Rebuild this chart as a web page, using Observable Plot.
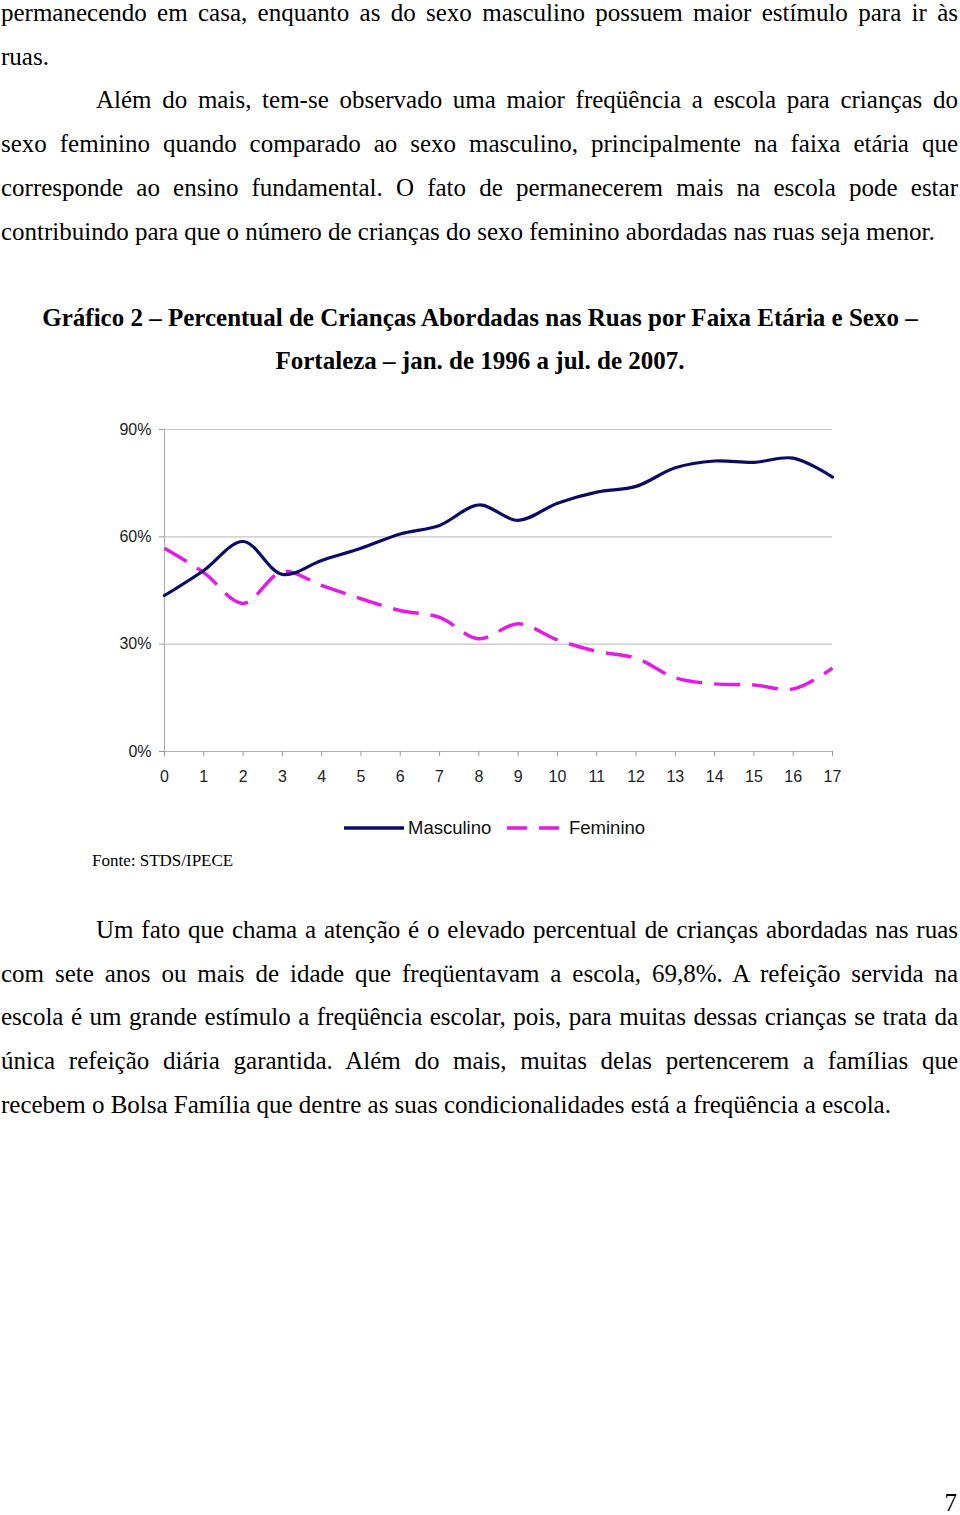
<!DOCTYPE html>
<html>
<head>
<meta charset="utf-8">
<script src="https://cdn.jsdelivr.net/npm/d3@7"></script>
<script src="https://cdn.jsdelivr.net/npm/@observablehq/plot@0.6"></script>
<style>
  html, body { margin: 0; padding: 0; background: #fff; }
  body { width: 960px; height: 1515px; position: relative; overflow: hidden; font-family: "Liberation Serif", "Times New Roman", serif; color: #000; }
  .para { position: absolute; left: 1px; width: 957px; font-size: 25px; line-height: 43.7px; }
  .para div { text-align: justify; text-align-last: justify; white-space: nowrap; }
  .para div.last { text-align-last: left; }
  .title { position: absolute; left: 0; width: 960px; top: 296px; text-align: center; font-weight: bold; font-size: 25px; line-height: 43px; }
  #chart { position: absolute; left: 0; top: 400px; }
  .legend { position: absolute; top: 817px; left: 0; width: 960px; height: 22px; font-family: "Liberation Sans", Arial, sans-serif; font-size: 18.5px; color: #111; }
  .legend span { position: absolute; top: 0; line-height: 22px; }
  .legend svg { position: absolute; top: 0; }
  .fonte { position: absolute; left: 92px; top: 851px; font-size: 17px; }
  .pagenum { position: absolute; right: 3px; top: 1489px; font-size: 25px; }
</style>
</head>
<body>
<div class="para" style="top:-9px">
  <div>permanecendo em casa, enquanto as do sexo masculino possuem maior estímulo para ir às</div>
  <div class="last">ruas.</div>
  <div style="padding-left:95px">Além do mais, tem-se observado uma maior freqüência a escola para crianças do</div>
  <div>sexo feminino quando comparado ao sexo masculino, principalmente na faixa etária que</div>
  <div>corresponde ao ensino fundamental. O fato de permanecerem mais na escola pode estar</div>
  <div class="last">contribuindo para que o número de crianças do sexo feminino abordadas nas ruas seja menor.</div>
</div>
<div class="title">
  <div>Gráfico 2 – Percentual de Crianças Abordadas nas Ruas por Faixa Etária e Sexo –</div>
  <div>Fortaleza – jan. de 1996 a jul. de 2007.</div>
</div>
<div id="chart"></div>
<div class="legend">
  <svg style="left:344px" width="62" height="22"><line x1="0" x2="60" y1="11" y2="11" stroke="#0b0b66" stroke-width="3.5"/></svg>
  <span style="left:408px">Masculino</span>
  <svg style="left:507px" width="58" height="22"><line x1="0" x2="56" y1="11" y2="11" stroke="#e21be6" stroke-width="3.5" stroke-dasharray="20,12"/></svg>
  <span style="left:569px">Feminino</span>
</div>
<div class="fonte">Fonte: STDS/IPECE</div>
<div class="para" style="top:908px">
  <div style="padding-left:95px">Um fato que chama a atenção é o elevado percentual de crianças abordadas nas ruas</div>
  <div>com sete anos ou mais de idade que freqüentavam a escola, 69,8%. A refeição servida na</div>
  <div>escola é um grande estímulo a freqüência escolar, pois, para muitas dessas crianças se trata da</div>
  <div>única refeição diária garantida. Além do mais, muitas delas pertencerem a famílias que</div>
  <div class="last">recebem o Bolsa Família que dentre as suas condicionalidades está a freqüência a escola.</div>
</div>
<div class="pagenum">7</div>
<script>
const ages = [0,1,2,3,4,5,6,7,8,9,10,11,12,13,14,15,16,17];
const masculino = [43.6,50.6,58.7,49.5,53.4,56.8,60.8,63.2,68.9,64.6,69.4,72.5,74.1,79.3,81.2,80.8,82.0,76.7];
const feminino  = [56.8,50.0,41.4,50.3,46.4,42.7,39.4,37.5,31.5,35.7,31.2,28.0,26.1,20.6,18.9,18.6,17.5,23.3];
const yTicks = [0,30,60,90];

const masc = ages.map((a,i) => ({age:a, v:masculino[i]}));
const fem = ages.map((a,i) => ({age:a, v:feminino[i]}));

const chart = Plot.plot({
  width: 960,
  height: 400,
  marginLeft: 164,
  marginRight: 128,
  marginTop: 29,
  marginBottom: 49,
  style: {fontFamily: "Liberation Sans, Arial, sans-serif", fontSize: "16px", color: "#222", background: "#fff"},
  x: {domain: [0,17]},
  y: {domain: [0,90]},
  marks: [
    Plot.ruleY([30,60,90], {stroke: "#c4c4c4", strokeWidth: 1.2}),
    Plot.ruleY([0], {stroke: "#b0b0b0", strokeWidth: 1.2}),
    Plot.ruleX([0], {y1: 0, y2: 90, stroke: "#b0b0b0", strokeWidth: 1.2}),
    Plot.axisY({ticks: yTicks, tickFormat: d => d + "%", tickSize: 5, tickPadding: 8, stroke: "#999", label: null}),
    Plot.axisX({ticks: ages, tickFormat: d => String(d), tickSize: 5, tickPadding: 14, stroke: "#999", label: null}),
    Plot.line(fem, {x: "age", y: "v", curve: "catmull-rom", stroke: "#e21be6", strokeWidth: 3.5, strokeDasharray: "26,12", strokeLinecap: "butt"}),
    Plot.line(masc, {x: "age", y: "v", curve: "catmull-rom", stroke: "#0b0b66", strokeWidth: 3.2})
  ]
});
document.getElementById("chart").appendChild(chart);
</script>
</body>
</html>
